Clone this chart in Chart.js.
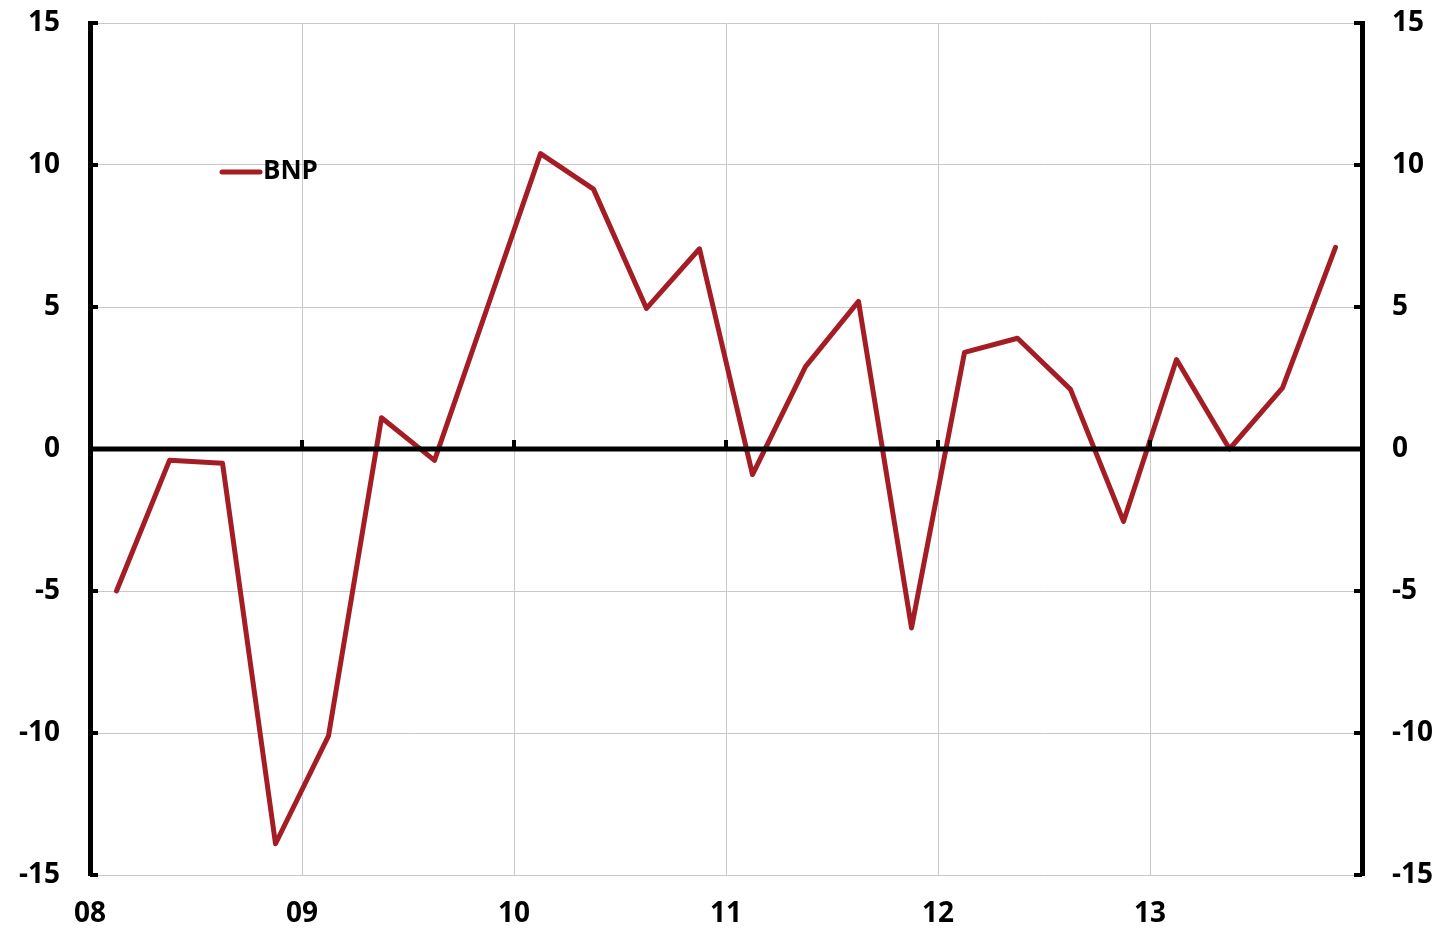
<!DOCTYPE html>
<html>
<head>
<meta charset="utf-8">
<script src="https://cdn.jsdelivr.net/npm/chart.js@4"></script>
<style>
  html, body { margin: 0; padding: 0; background: #fff; }
  #wrap { width: 1452px; height: 930px; }
</style>
</head>
<body>
<div id="wrap"><canvas id="myChart" width="1452" height="930"></canvas></div>
<script>
// quarterly values, 2008Q1 .. 2013Q4
var seriesName = "BNP";
var bnpValues = [
  -5.0, -0.4, -0.5, -13.9,
  -10.1, 1.1, -0.4, 5.0,
  10.4, 9.15, 4.95, 7.05,
  -0.9, 2.9, 5.2, -6.3,
  3.4, 3.9, 2.1, -2.55,
  3.15, 0.0, 2.15, 7.1
];
var yearLabels = ["08", "09", "10", "11", "12", "13", ""];
var yTicks = [-15, -10, -5, 0, 5, 10, 15];

var lineColor = "#a51d24";
var gridColor = "#c8c8c8";
var fontFam = "'Open Sans', 'DejaVu Sans', sans-serif";

var points = bnpValues.map(function (v, i) { return { x: i + 0.5, y: v }; });

// zero line, inward ticks and legend
var decorations = {
  id: "decorations",
  afterDatasetsDraw: function (chart) {
    var ctx = chart.ctx;
    var area = chart.chartArea;
    var x = chart.scales.x;
    var y = chart.scales.y;
    var y0 = y.getPixelForValue(0);
    ctx.save();
    ctx.fillStyle = "#000";
    // zero line
    ctx.fillRect(area.left, y0 - 2.5, area.right - area.left, 5);
    // year ticks on zero line
    for (var k = 1; k < yearLabels.length - 1; k++) {
      var px = x.getPixelForValue(k * 4);
      ctx.fillRect(px - 2, y0 - 9, 4, 9);
    }
    // inward ticks on left/right axes
    yTicks.forEach(function (t) {
      var py = y.getPixelForValue(t);
      ctx.fillRect(area.left, py - 2, 8, 4);
      ctx.fillRect(area.right - 8, py - 2, 8, 4);
    });
    ctx.restore();
  },
  afterDraw: function (chart) {
    var ctx = chart.ctx;
    ctx.save();
    ctx.strokeStyle = lineColor;
    ctx.lineWidth = 5;
    ctx.lineCap = "round";
    ctx.beginPath();
    ctx.moveTo(222, 172);
    ctx.lineTo(260, 172);
    ctx.stroke();
    ctx.fillStyle = "#000";
    ctx.font = "bold 26px " + fontFam;
    ctx.textBaseline = "middle";
    ctx.fillText(seriesName, 263, 172);
    ctx.restore();
  }
};

function yScale(pos) {
  return {
    type: "linear",
    position: pos,
    min: -15,
    max: 15,
    afterFit: function (s) { s.width = 90; s.paddingTop = 0; s.paddingBottom = 0; },
    afterBuildTicks: function (s) { s.ticks = yTicks.map(function (v) { return { value: v }; }); },
    grid: { display: pos === "left", color: gridColor, lineWidth: 1, drawTicks: false },
    border: { display: true, color: "#000", width: 5 },
    ticks: {
      padding: 30,
      color: "#000",
      font: { family: fontFam, size: 28, weight: "bold" }
    }
  };
}

new Chart("myChart", {
  type: "line",
  data: {
    datasets: [{
      label: seriesName,
      data: points,
      borderColor: lineColor,
      borderWidth: 5,
      borderJoinStyle: "round",
      borderCapStyle: "round",
      pointRadius: 0,
      tension: 0,
      fill: false
    }]
  },
  options: {
    responsive: false,
    animation: false,
    layout: { padding: { top: 23, left: 0, right: 0, bottom: 0 } },
    plugins: { legend: { display: false }, tooltip: { enabled: false } },
    scales: {
      x: {
        type: "linear",
        min: 0,
        max: 24,
        afterFit: function (s) { s.height = 55; s.paddingLeft = 0; s.paddingRight = 0; },
        afterBuildTicks: function (s) {
          s.ticks = yearLabels.map(function (l, k) { return { value: k * 4 }; });
        },
        grid: { color: gridColor, lineWidth: 1, drawTicks: false },
        border: { display: false },
        ticks: {
          padding: 22,
          color: "#000",
          maxRotation: 0,
          autoSkip: false,
          font: { family: fontFam, size: 28, weight: "bold" },
          callback: function (v) { return yearLabels[Math.round(v / 4)]; }
        }
      },
      y: yScale("left"),
      y2: yScale("right")
    }
  },
  plugins: [decorations]
});
</script>
</body>
</html>
